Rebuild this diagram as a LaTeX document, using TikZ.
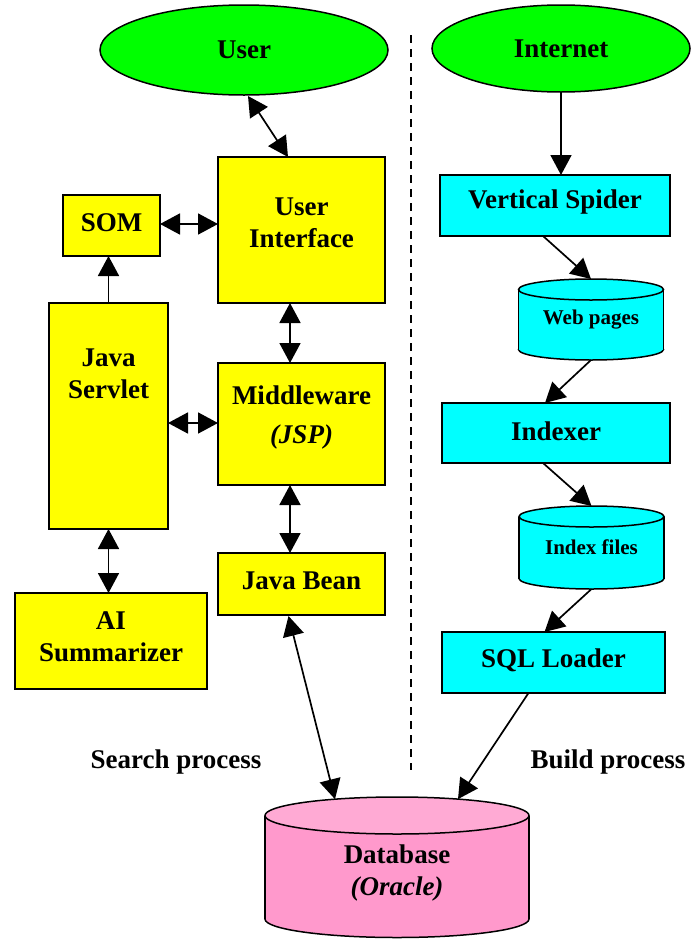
\documentclass[tikz,border=0pt]{standalone}
\usepackage{fontspec}
\setmainfont{Liberation Serif}
\usetikzlibrary{arrows.meta,calc,shapes.geometric}

\definecolor{boxyellow}{HTML}{FFFF00}
\definecolor{boxcyan}{HTML}{00FFFF}
\definecolor{ovalgreen}{HTML}{00FF00}
\definecolor{dbbody}{HTML}{FF99CC}
\definecolor{dbtop}{HTML}{FFAAD4}

% drum: cx, rx, y of top centre, y of bottom centre, ry, top fill, body fill
\newcommand\drum[7]{%
  \filldraw[line width=1.5pt, fill=#7] (#1,#4) ellipse [x radius=#2pt, y radius=#5pt];
  \fill[#7] (#1-#2,#3) rectangle (#1+#2,#4);
  \draw[line width=1.5pt] (#1-#2,#3) -- (#1-#2,#4) (#1+#2,#3) -- (#1+#2,#4);
  \filldraw[line width=1.5pt, fill=#6] (#1,#3) ellipse [x radius=#2pt, y radius=#5pt];
}

\tikzset{
  every node/.style={font=\fontsize{27}{32}\selectfont\bfseries,
    inner sep=0pt, outer sep=0pt, align=center},
  ybox/.style={draw, line width=1.5pt, fill=boxyellow},
  cbox/.style={draw, line width=1.5pt, fill=boxcyan},
  oval/.style={ellipse, draw, line width=1.5pt, fill=ovalgreen},
  drumtext/.style={font=\fontsize{21}{26}\selectfont\bfseries},
  tip/.tip={Triangle[length=20pt,width=21pt]},
  link/.style={line width=1.7pt, -tip},
  duplex/.style={line width=1.7pt, tip-tip},
}

\begin{document}
\begin{tikzpicture}[x=1pt, y=-1pt]
\useasboundingbox (0,0) rectangle (695,940);

% divider between the two processes
\draw[line width=1.8pt, dash pattern=on 8pt off 6pt] (411,35) -- (411,770);

% ---- search side ----
\node[oval, minimum width=288pt, minimum height=90pt] (user) at (244,50) {User};
\node[ybox, minimum width=167pt, minimum height=146pt] (ui) at (301.5,230) {};
\node (uitext) at (301.5,223) {User\\Interface};
\node[ybox, minimum width=97pt, minimum height=61pt] (som) at (111.5,225.5) {};
\node (somtext) at (111.5,222.5) {SOM};
\node[ybox, minimum width=119pt, minimum height=226pt] (servlet) at (108.5,416) {};
\node (servlettext) at (108.5,374) {Java\\Servlet};
\node[ybox, minimum width=167pt, minimum height=122pt] (mw) at (301.5,424) {};
\node (mwtext) at (301.5,417.5) {Middleware\\[7pt]\textit{(JSP)}};
\node[ybox, minimum width=167pt, minimum height=62pt] (bean) at (301.5,584) {};
\node (beantext) at (301.5,580.5) {Java Bean};
\node[ybox, minimum width=192pt, minimum height=96pt] (ai) at (111,641) {};
\node (aitext) at (111,636.5) {AI\\Summarizer};

% ---- build side ----
\node[oval, minimum width=258pt, minimum height=87pt] (internet) at (561,48.5) {Internet};
\node[cbox, minimum width=230pt, minimum height=61pt] (vs) at (555,205.5) {};
\node (vstext) at (555,202.5) {Vertical Spider};
\drum{591}{72.5}{289.5}{349.5}{10.5}{boxcyan}{boxcyan}
\node[drumtext, minimum width=145pt, minimum height=81pt] (web) at (591,319.5) {Web pages};
\node[cbox, minimum width=228pt, minimum height=60pt] (indexer) at (556,433) {};
\node (indexertext) at (556,431) {Indexer};
\drum{591.5}{72.5}{516.5}{578.5}{10.5}{boxcyan}{boxcyan}
\node[drumtext, minimum width=145pt, minimum height=83pt] (idx) at (591.5,547.5) {Index files};
\node[cbox, minimum width=223pt, minimum height=61pt] (sql) at (553.5,662.5) {};
\node (sqltext) at (553.5,660) {SQL Loader};

% ---- shared store ----
\drum{397}{132}{815.5}{919}{18.5}{dbtop}{dbbody}
\node[minimum width=264pt, minimum height=140pt] (db) at (397,873) {Database\\\textit{(Oracle)}};
\coordinate (dbL) at (335,799.2);
\coordinate (dbR) at (458,799.1);

\node (searchlbl) at (176,762) {Search process};
\node (buildlbl) at (608,762) {Build process};

% ---- connectors ----
\draw[duplex] ($(user.south)+(4,1)$) -- ($(ui.north)+(-13.5,0)$);
\draw[duplex] (som.east |- 0,224) -- (ui.west |- 0,224);
\draw[link] (servlet.north) -- (servlet.north |- som.south);
\draw[duplex] ($(ui.south)+(-11.5,0)$) -- ($(mw.north)+(-11.5,0)$);
\draw[duplex] (servlet.east |- 0,423) -- (mw.west |- 0,423);
\draw[duplex] ($(mw.south)+(-11.5,0)$) -- ($(bean.north)+(-11.5,0)$);
\draw[duplex] (servlet.south) -- (servlet.south |- ai.north);
\draw[duplex] ($(bean.south)+(-13,1)$) -- (dbL);

\draw[link] (internet.south) -- (internet.south |- vs.north);
\draw[link] ($(vs.south)+(-12,0)$) -- (web.north);
\draw[link] (web.south) -- ($(indexer.north)+(-11,0)$);
\draw[link] ($(indexer.south)+(-13,0)$) -- (idx.north);
\draw[link] (idx.south) -- ($(sql.north)+(-9,0)$);
\draw[link] ($(sql.south)+(-25,0)$) -- (dbR);
\end{tikzpicture}
\end{document}
